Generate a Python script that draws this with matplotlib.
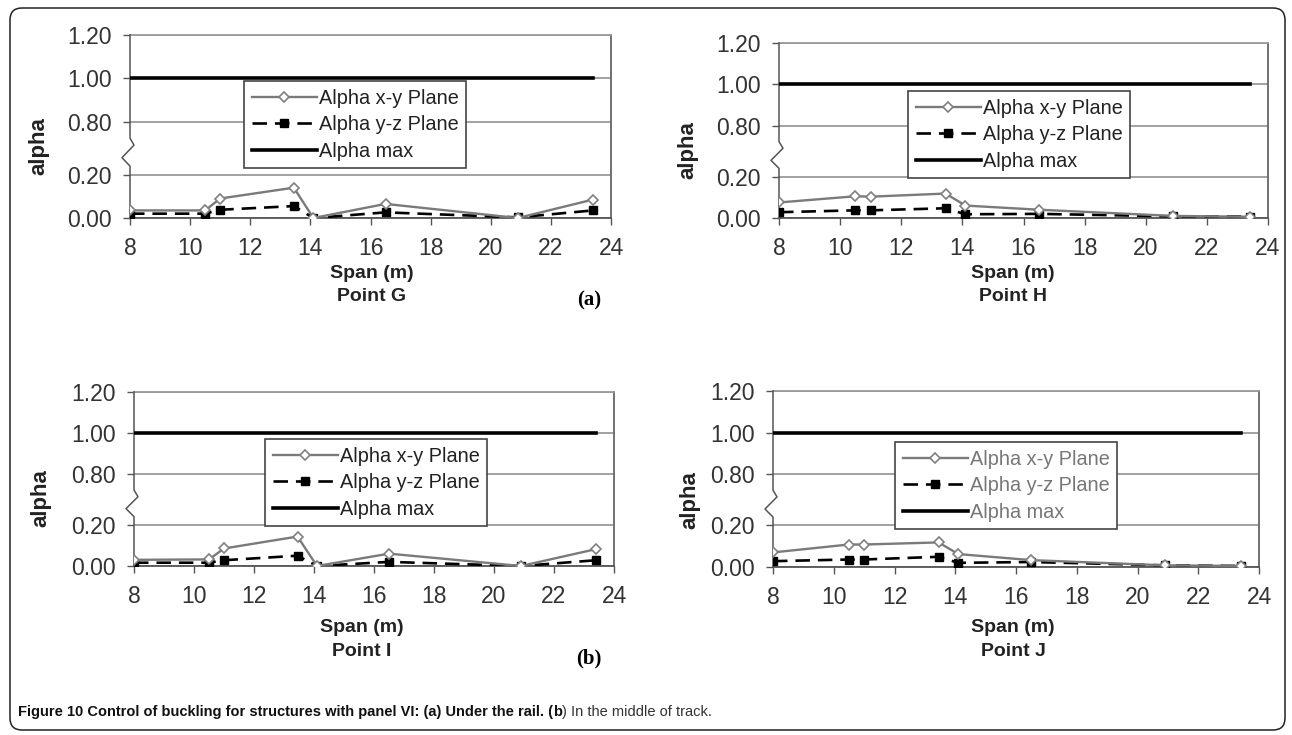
import matplotlib
matplotlib.use("Agg")
import matplotlib.pyplot as plt
import numpy as np
from matplotlib.patches import FancyBboxPatch

# ---------------- data ----------------
span = [8.0, 10.5, 11.0, 13.45, 14.1, 16.5, 20.9, 23.4]
alpha_max = [1.00, 1.00, 1.00, 1.00, 1.00, 1.00, 1.00, 1.00]

g_xy = [0.035, 0.035, 0.090, 0.140, 0.000, 0.065, 0.000, 0.085]
g_yz = [0.020, 0.020, 0.038, 0.055, 0.000, 0.026, 0.003, 0.035]

h_xy = [0.075, 0.105, 0.103, 0.118, 0.060, 0.040, 0.010, 0.006]
h_yz = [0.028, 0.037, 0.037, 0.047, 0.018, 0.020, 0.008, 0.007]

i_xy = [0.030, 0.032, 0.085, 0.143, 0.000, 0.060, 0.000, 0.082]
i_yz = [0.016, 0.016, 0.028, 0.050, 0.000, 0.020, 0.000, 0.028]

j_xy = [0.070, 0.108, 0.108, 0.118, 0.062, 0.033, 0.008, 0.005]
j_yz = [0.028, 0.036, 0.036, 0.049, 0.020, 0.024, 0.008, 0.005]

yticks = [0.00, 0.20, 0.80, 1.00, 1.20]
ytick_labels = ["0.00", "0.20", "0.80", "1.00", "1.20"]
xticks = [8, 10, 12, 14, 16, 18, 20, 22, 24]
xtick_labels = ["8", "10", "12", "14", "16", "18", "20", "22", "24"]

series_labels = ["Alpha x-y Plane", "Alpha y-z Plane", "Alpha max"]
point_names = ["Point G", "Point H", "Point I", "Point J"]
caption_bold = "Figure 10 Control of buckling for structures with panel VI: (a) Under the rail. ("
caption_b = "b"
caption_rest = ") In the middle of track."

# ---------------- layout ----------------
W, H, DPI = 1292, 735, 100
plt.rcParams["font.family"] = ["Liberation Sans", "DejaVu Sans"]
fig = plt.figure(figsize=(W / DPI, H / DPI), dpi=DPI)
fig.patch.set_facecolor("white")

LOW, HIGH, GAP = 0.20, 0.80, 0.245


def fwd(y):
    y = np.asarray(y, dtype=float)
    return np.where(y <= LOW, y,
                    np.where(y >= HIGH, y - HIGH + LOW + GAP,
                             LOW + (y - LOW) * GAP / (HIGH - LOW)))


def inv(t):
    t = np.asarray(t, dtype=float)
    return np.where(t <= LOW, t,
                    np.where(t >= LOW + GAP, t - LOW - GAP + HIGH,
                             LOW + (t - LOW) * (HIGH - LOW) / GAP))


def fx(px):
    return px / W


def fy(py):
    return 1 - py / H


panels = [
    dict(box=(130, 611, 35, 218), leg=(244, 81), xy=g_xy, yz=g_yz,
         alpha=(39, 146), span=(372, 273), point=(372, 297), legc="#222222"),
    dict(box=(779, 1268, 43, 218), leg=(908, 91), xy=h_xy, yz=h_yz,
         alpha=(688, 150), span=(1013, 273), point=(1013, 297), legc="#222222"),
    dict(box=(134, 614, 392, 566), leg=(265, 439), xy=i_xy, yz=i_yz,
         alpha=(41, 498), span=(362, 628), point=(362, 651), legc="#222222"),
    dict(box=(773, 1259, 391, 567), leg=(895, 442), xy=j_xy, yz=j_yz,
         alpha=(690, 500), span=(1013, 628), point=(1013, 651), legc="#777777"),
]

AX_COL = "#555555"
GRID_COL = "#9a9a9a"

for p, name in zip(panels, point_names):
    l, r, t, b = p["box"]
    ax = fig.add_axes([fx(l), fy(b), fx(r - l), (b - t) / H])
    ax.set_yscale("function", functions=(fwd, inv))
    ax.set_xlim(8, 24)
    ax.set_ylim(0, 1.2)
    ax.set_yticks(yticks)
    ax.set_yticklabels(ytick_labels)
    ax.set_xticks(xticks)
    ax.set_xticklabels(xtick_labels)
    ax.minorticks_off()
    ax.tick_params(axis="both", direction="out", length=5, width=1,
                   color=AX_COL, labelsize=16.5, labelcolor="#333333")
    ax.tick_params(axis="x", pad=8.5)
    ax.tick_params(axis="y", pad=8)
    ax.yaxis.grid(True, color=GRID_COL, lw=1.3)
    ax.set_axisbelow(True)
    ax.spines["top"].set_color(GRID_COL)
    ax.spines["top"].set_linewidth(1.3)
    ax.spines["right"].set_color("#666666")
    ax.spines["right"].set_linewidth(1.3)
    ax.spines["bottom"].set_color(AX_COL)
    ax.spines["bottom"].set_linewidth(1.3)
    ax.spines["left"].set_visible(False)

    # left spine with break symbol
    f02 = float(fwd(0.2)) / float(fwd(1.2))
    f08 = float(fwd(0.8)) / float(fwd(1.2))
    lo = f02 + 0.047
    hi = f08 - 0.09
    wpx = r - l
    xs = [0, 0, 4 / wpx, -8 / wpx, 0, 0]
    ys = [1.0, hi, hi - 0.25 * (hi - lo), lo + 0.3 * (hi - lo), lo, 0]
    ax.plot(xs, ys, transform=ax.transAxes, color=AX_COL, lw=1.1,
            clip_on=False, zorder=3)

    l1, = ax.plot(span, p["xy"], color="#7a7a7a", lw=1.7, marker="D",
                  ms=5.5, mfc="white", mec="#808080", mew=1.2, zorder=4,
                  label=series_labels[0])
    l2, = ax.plot(span, p["yz"], color="black", lw=1.9, ls=(0, (5.5, 3)),
                  marker="s", ms=5.5, mfc="black", mec="black", zorder=3,
                  label=series_labels[1])
    l3, = ax.plot(span, alpha_max, color="black", lw=2.6, zorder=3,
                  label=series_labels[2])

    lx, ly = p["leg"]
    leg = ax.legend(handles=[l1, l2, l3], loc="upper left",
                    bbox_to_anchor=(fx(lx), fy(ly)),
                    bbox_transform=fig.transFigure, borderaxespad=0,
                    fontsize=14.3, handlelength=3.3, handletextpad=0.1,
                    borderpad=0.38, labelspacing=0.38, fancybox=False,
                    framealpha=1, edgecolor="#444444", labelcolor=p["legc"])
    leg.get_frame().set_linewidth(1.2)
    leg.set_zorder(10)

    fig.text(fx(p["alpha"][0]), fy(p["alpha"][1]), "alpha", rotation=90,
             ha="center", va="center", fontsize=16, fontweight="bold",
             color="#222222")
    fig.text(fx(p["span"][0]), fy(p["span"][1]), "Span (m)", ha="center",
             va="center", fontsize=14, fontweight="bold", color="#222222")
    fig.text(fx(p["point"][0]), fy(p["point"][1]), name, ha="center",
             va="center", fontsize=14, fontweight="bold", color="#222222")

fig.text(fx(589), fy(300), "(a)", ha="center", va="center", fontsize=15,
         fontweight="bold", family=["Liberation Serif", "DejaVu Serif"])
fig.text(fx(589), fy(658), "(b)", ha="center", va="center", fontsize=15,
         fontweight="bold", family=["Liberation Serif", "DejaVu Serif"])

# caption
cap_fam = ["Liberation Sans Narrow", "Liberation Sans", "DejaVu Sans"]
renderer = fig.canvas.get_renderer()
t1 = fig.text(fx(18), fy(712), caption_bold, ha="left", va="center",
              fontsize=10.5, fontweight="bold", family=cap_fam, color="#111111")
bb = t1.get_window_extent(renderer)
t2 = fig.text(bb.x1 / W, fy(712), caption_b, ha="left", va="center",
              fontsize=10.5, fontweight="bold", family=cap_fam, color="#111111")
bb2 = t2.get_window_extent(renderer)
t3 = fig.text(bb2.x1 / W, fy(712), caption_rest, ha="left", va="center",
              fontsize=10.5, family=cap_fam, color="#333333")

# rounded frame
frame = FancyBboxPatch((10 / DPI, (H - 730) / DPI), (1285 - 10) / DPI,
                       (730 - 8) / DPI,
                       boxstyle="round,pad=0,rounding_size=0.12",
                       transform=fig.dpi_scale_trans, fill=False,
                       ec="#222222", lw=1.1)
fig.patches.append(frame)

fig.savefig("out.png", dpi=DPI, facecolor="white")
